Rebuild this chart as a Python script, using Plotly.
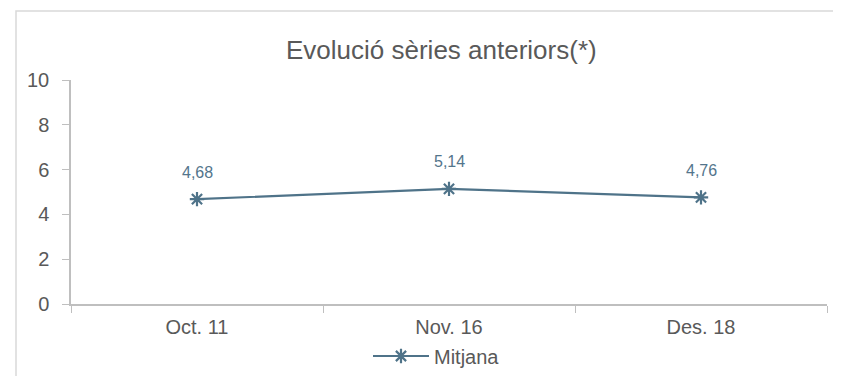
import plotly.graph_objects as go

categories = ["Oct. 11", "Nov. 16", "Des. 18"]
mitjana = [4.68, 5.14, 4.76]
series_name = "Mitjana"
title_text = "Evolució sèries anteriors(*)"

line_color = "#4f7389"
label_color = "#53758c"
axis_color = "#bfbfbf"
text_color = "#595959"
FONT = "Liberation Sans, Arial"

# plot area in screen pixels: x 70..826, y 80..304 (page body has an 8px margin)
def px(x):
    return (x - 70) / 756

def py(y):
    return (304 - y) / 224

fig = go.Figure()
fig.add_trace(go.Scatter(
    x=categories, y=mitjana, name=series_name,
    mode="lines+markers",
    line=dict(color=line_color, width=2.2),
    marker=dict(symbol="asterisk-open", size=12,
                line=dict(color=line_color, width=2.2), color=line_color),
))

for c, v in zip(categories, mitjana):
    fig.add_annotation(x=c, y=v, text=f"{v:.2f}".replace(".", ","),
                       showarrow=False, yshift=27, yanchor="middle",
                       font=dict(family=FONT, size=16, color=label_color))

fig.add_annotation(x=px(440), y=py(50), xref="paper", yref="paper",
                   text=title_text, showarrow=False, xanchor="center", yanchor="middle",
                   font=dict(family=FONT, size=26, color=text_color))

fig.add_shape(type="rect", xref="paper", yref="paper",
              x0=px(15), x1=1.2, y0=-0.6, y1=py(11),
              line=dict(color="#d9d9d9", width=1.5), fillcolor="rgba(0,0,0,0)", layer="below")

fig.update_layout(
    width=841, height=376,
    margin=dict(l=63, r=22, t=72, b=80),
    paper_bgcolor="white", plot_bgcolor="white",
    separators=",.",
    font=dict(family=FONT, size=20, color=text_color),
    showlegend=True,
    legend=dict(orientation="h", x=px(367), xanchor="left",
                yref="container", y=(376 - 348) / 376, yanchor="middle", itemwidth=56,
                font=dict(family=FONT, size=20, color=text_color), bgcolor="rgba(0,0,0,0)"),
    xaxis=dict(type="category", tickson="boundaries", ticks="outside", ticklen=7,
               tickcolor=axis_color, showline=True, linecolor=axis_color, linewidth=1.5,
               showgrid=False, zeroline=False, tickfont=dict(family=FONT, size=20, color=text_color),
               range=[-0.5, 2.5], automargin=False, ticklabelstandoff=4),
    yaxis=dict(range=[0, 10], dtick=2, ticks="outside", ticklen=7, tickcolor=axis_color,
               showline=True, linecolor=axis_color, linewidth=1.5, showgrid=False,
               zeroline=False, tickfont=dict(family=FONT, size=20, color=text_color),
               ticklabelstandoff=9, automargin=False),
)

fig.write_html("out.html")
